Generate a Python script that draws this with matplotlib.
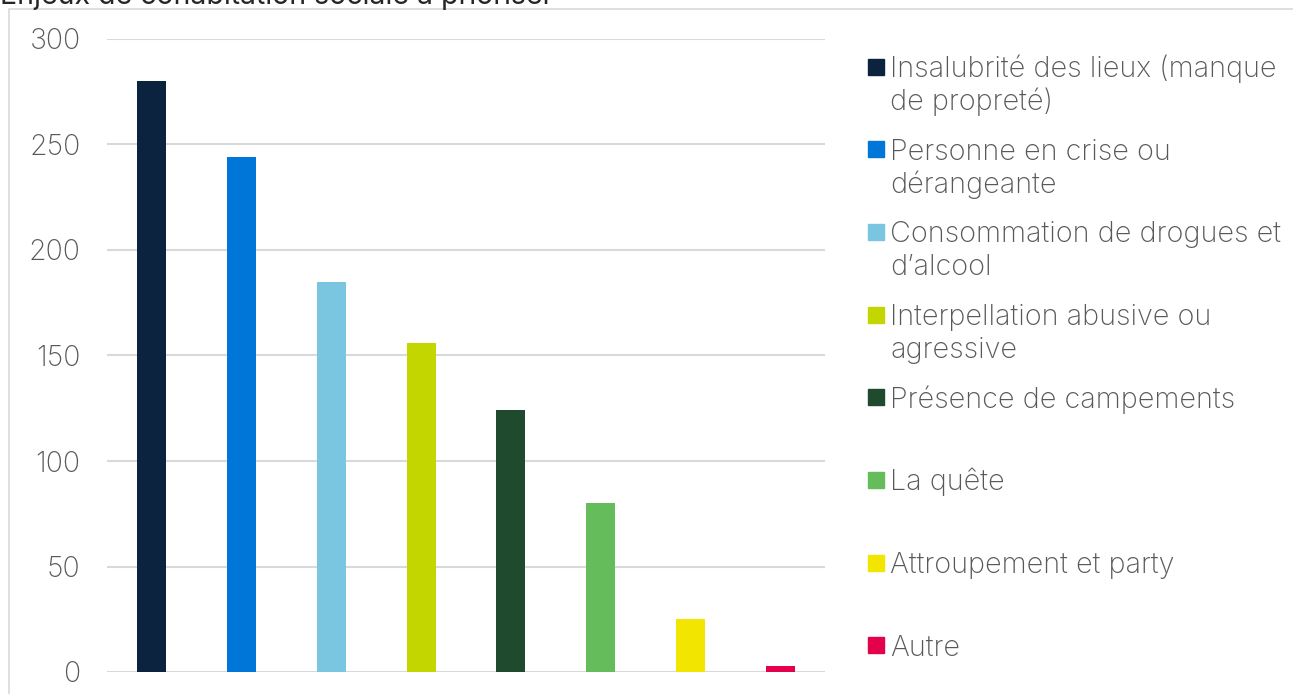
import matplotlib
matplotlib.use("Agg")
import matplotlib.pyplot as plt
from matplotlib.patches import Rectangle

# data
categories = [
    "Insalubrité des lieux (manque\nde propreté)",
    "Personne en crise ou\ndérangeante",
    "Consommation de drogues et\nd’alcool",
    "Interpellation abusive ou\nagressive",
    "Présence de campements",
    "La quête",
    "Attroupement et party",
    "Autre",
]
values = [280, 244, 185, 156, 124, 80, 25, 3]
colors = ["#0C2340", "#0077D8", "#7AC6E0", "#C4D600",
          "#1F4A2E", "#64BC5A", "#F2E500", "#E4004B"]
yticks = [0, 50, 100, 150, 200, 250, 300]
title = "Enjeux de cohabitation sociale à prioriser"

W, H = 1293, 694
plt.rcParams['font.family'] = ['Inter', 'DejaVu Sans']
text_gray = "#595959"

fig = plt.figure(figsize=(W / 100, H / 100), dpi=100)

# outer chart frame (cut off at right / bottom in the reference)
fig.patches.append(Rectangle((9 / W, -0.05), 1.2, 1 - 9 / H + 0.05,
                             transform=fig.transFigure, fill=False,
                             edgecolor="#D9D9D9", linewidth=1.2))

# title, mostly cropped off the top like in the reference
fig.text(0.0, 1 - 4 / H, title, fontsize=20.5, color="#262626", va="baseline", ha="left")

ax = fig.add_axes([107 / W, 1 - 672 / H, (825 - 107) / W, (672 - 39) / H])
x = range(len(values))
ax.bar(x, values, width=0.323, color=colors, zorder=3)
ax.set_xlim(-0.5, len(values) - 0.5)
ax.set_ylim(0, 300)
ax.set_yticks(yticks)
ax.set_xticks([])
ax.grid(axis="y", color="#D9D9D9", linewidth=1.5, zorder=0)
for s in ax.spines.values():
    s.set_visible(False)
ax.tick_params(axis="y", length=0, pad=19, labelsize=20.5, labelcolor=text_gray)
for lab in ax.get_yticklabels():
    lab.set_fontweight("light")

# legend drawn by hand, Excel style: marker aligned with first line
y0, step, line_h = 66.5, 82.7, 33
for i, (lab, col) in enumerate(zip(categories, colors)):
    yc = y0 + step * i
    fig.patches.append(Rectangle((868 / W, 1 - (yc + 8) / H), 16 / W, 16 / H,
                                 transform=fig.transFigure, color=col))
    for k, line in enumerate(lab.split("\n")):
        fig.text(890 / W, 1 - (yc + 10.5 + k * line_h) / H, line, fontsize=20.7,
                 color=text_gray, va="baseline", ha="left", fontweight="light")

fig.savefig("out.png", dpi=100)
